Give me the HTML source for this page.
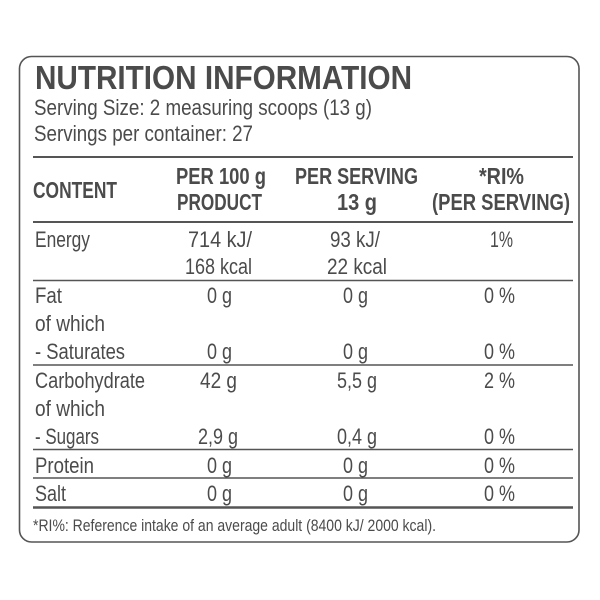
<!DOCTYPE html>
<html>
<head>
<meta charset="utf-8">
<style>
  html,body{margin:0;padding:0;background:#ffffff;}
  svg{display:block;}
  text{font-family:"Liberation Sans Narrow","Liberation Sans",sans-serif;fill:#4b4b4b;}
  .b{font-weight:bold;}
</style>
</head>
<body>
<svg width="600" height="600" viewBox="0 0 600 600" xmlns="http://www.w3.org/2000/svg">
  <rect x="0" y="0" width="600" height="600" fill="#ffffff"/>
  <rect x="19.5" y="56.5" width="559.5" height="485.5" rx="12" ry="12" fill="none" stroke="#555" stroke-width="1.6"/>

  <!-- Title block -->
  <text class="b" x="35" y="89" font-size="33" textLength="377" lengthAdjust="spacingAndGlyphs">NUTRITION INFORMATION</text>
  <text x="34" y="115" font-size="22" textLength="338" lengthAdjust="spacingAndGlyphs">Serving Size: 2 measuring scoops (13 g)</text>
  <text x="34" y="141" font-size="22" textLength="219" lengthAdjust="spacingAndGlyphs">Servings per container: 27</text>

  <!-- Lines -->
  <g stroke="#555">
    <line x1="33" y1="157" x2="573" y2="157" stroke-width="2"/>
    <line x1="33" y1="222" x2="573" y2="222" stroke-width="2"/>
    <line x1="33" y1="280.5" x2="573" y2="280.5" stroke-width="1.5"/>
    <line x1="33" y1="365" x2="573" y2="365" stroke-width="1.5"/>
    <line x1="33" y1="449.5" x2="573" y2="449.5" stroke-width="1.5"/>
    <line x1="33" y1="478" x2="573" y2="478" stroke-width="1.5"/>
    <line x1="33" y1="507.5" x2="573" y2="507.5" stroke-width="2.6"/>
  </g>

  <!-- Header -->
  <text class="b" x="33" y="198" font-size="23" textLength="84" lengthAdjust="spacingAndGlyphs">CONTENT</text>
  <text class="b" x="176" y="184" font-size="23" textLength="90" lengthAdjust="spacingAndGlyphs">PER 100 g</text>
  <text class="b" x="177" y="210" font-size="23" textLength="85" lengthAdjust="spacingAndGlyphs">PRODUCT</text>
  <text class="b" x="295" y="184" font-size="23" textLength="123" lengthAdjust="spacingAndGlyphs">PER SERVING</text>
  <text class="b" x="337" y="210" font-size="23" textLength="40" lengthAdjust="spacingAndGlyphs">13 g</text>
  <text class="b" x="479" y="184" font-size="23" textLength="45" lengthAdjust="spacingAndGlyphs">*RI%</text>
  <text class="b" x="432" y="210" font-size="23" textLength="138" lengthAdjust="spacingAndGlyphs">(PER SERVING)</text>

  <!-- Energy -->
  <text x="35" y="247" font-size="22" textLength="55" lengthAdjust="spacingAndGlyphs">Energy</text>
  <text x="188" y="247" font-size="22" textLength="64" lengthAdjust="spacingAndGlyphs">714 kJ/</text>
  <text x="185" y="274" font-size="22" textLength="67" lengthAdjust="spacingAndGlyphs">168 kcal</text>
  <text x="330" y="247" font-size="22" textLength="50" lengthAdjust="spacingAndGlyphs">93 kJ/</text>
  <text x="327" y="274" font-size="22" textLength="60" lengthAdjust="spacingAndGlyphs">22 kcal</text>
  <text x="490" y="247" font-size="22" textLength="23" lengthAdjust="spacingAndGlyphs">1%</text>

  <!-- Fat -->
  <text x="35" y="303" font-size="22" textLength="27" lengthAdjust="spacingAndGlyphs">Fat</text>
  <text x="207" y="303" font-size="22" textLength="25" lengthAdjust="spacingAndGlyphs">0 g</text>
  <text x="343" y="303" font-size="22" textLength="25" lengthAdjust="spacingAndGlyphs">0 g</text>
  <text x="484" y="303" font-size="22" textLength="31" lengthAdjust="spacingAndGlyphs">0 %</text>
  <text x="35" y="331" font-size="22" textLength="70" lengthAdjust="spacingAndGlyphs">of which</text>
  <text x="35" y="359" font-size="22" textLength="90" lengthAdjust="spacingAndGlyphs">- Saturates</text>
  <text x="207" y="359" font-size="22" textLength="25" lengthAdjust="spacingAndGlyphs">0 g</text>
  <text x="343" y="359" font-size="22" textLength="25" lengthAdjust="spacingAndGlyphs">0 g</text>
  <text x="484" y="359" font-size="22" textLength="31" lengthAdjust="spacingAndGlyphs">0 %</text>

  <!-- Carbohydrate -->
  <text x="35" y="388" font-size="22" textLength="110" lengthAdjust="spacingAndGlyphs">Carbohydrate</text>
  <text x="200" y="388" font-size="22" textLength="37" lengthAdjust="spacingAndGlyphs">42 g</text>
  <text x="337" y="388" font-size="22" textLength="40" lengthAdjust="spacingAndGlyphs">5,5 g</text>
  <text x="484" y="388" font-size="22" textLength="31" lengthAdjust="spacingAndGlyphs">2 %</text>
  <text x="35" y="416" font-size="22" textLength="70" lengthAdjust="spacingAndGlyphs">of which</text>
  <text x="35" y="444" font-size="22" textLength="64" lengthAdjust="spacingAndGlyphs">- Sugars</text>
  <text x="198" y="444" font-size="22" textLength="40" lengthAdjust="spacingAndGlyphs">2,9 g</text>
  <text x="337" y="444" font-size="22" textLength="40" lengthAdjust="spacingAndGlyphs">0,4 g</text>
  <text x="484" y="444" font-size="22" textLength="31" lengthAdjust="spacingAndGlyphs">0 %</text>

  <!-- Protein -->
  <text x="35" y="473" font-size="22" textLength="59" lengthAdjust="spacingAndGlyphs">Protein</text>
  <text x="207" y="473" font-size="22" textLength="25" lengthAdjust="spacingAndGlyphs">0 g</text>
  <text x="343" y="473" font-size="22" textLength="25" lengthAdjust="spacingAndGlyphs">0 g</text>
  <text x="484" y="473" font-size="22" textLength="31" lengthAdjust="spacingAndGlyphs">0 %</text>

  <!-- Salt -->
  <text x="35" y="501" font-size="22" textLength="31" lengthAdjust="spacingAndGlyphs">Salt</text>
  <text x="207" y="501" font-size="22" textLength="25" lengthAdjust="spacingAndGlyphs">0 g</text>
  <text x="343" y="501" font-size="22" textLength="25" lengthAdjust="spacingAndGlyphs">0 g</text>
  <text x="484" y="501" font-size="22" textLength="31" lengthAdjust="spacingAndGlyphs">0 %</text>

  <!-- Footnote -->
  <text x="33" y="531" font-size="17" textLength="403" lengthAdjust="spacingAndGlyphs">*RI%: Reference intake of an average adult (8400 kJ/ 2000 kcal).</text>
</svg>
</body>
</html>
